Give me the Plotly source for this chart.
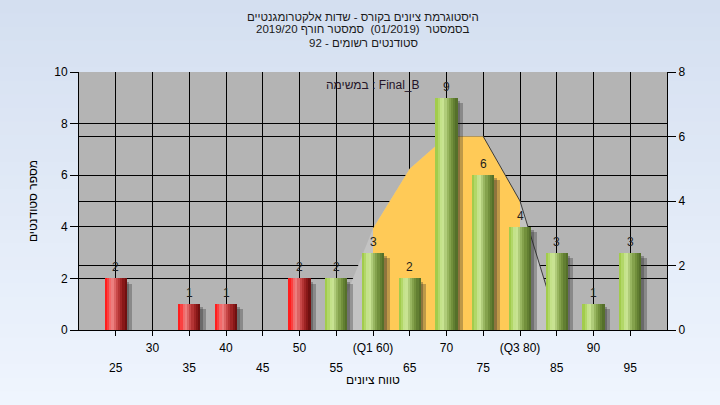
import plotly.graph_objects as go

# ---------------- data ----------------
grades = [25, 30, 35, 40, 45, 50, 55, 60, 65, 70, 75, 80, 85, 90, 95]
counts = [2, 0, 1, 1, 0, 2, 2, 3, 2, 9, 6, 4, 3, 1, 3]
pass_grade = 55

upper_tick_vals = [30, 40, 50, 60, 70, 80, 90]
upper_tick_text = ["30", "40", "50", "(Q1 60)", "70", "(Q3 80)", "90"]
lower_tick_vals = [25, 35, 45, 55, 65, 75, 85, 95]
lower_tick_text = ["25", "35", "45", "55", "65", "75", "85", "95"]

curve_x = [55, 60, 65, 70, 75, 80, 85]
curve_y = [0.3, 3.15, 5.0, 6.0, 6.0, 4.0, 0.3]
q1, q3 = 60, 80

title_lines = [
    "היסטוגרמת ציונים בקורס - שדות אלקטרומגנטיים",
    "\u202bבסמסטר  (01/2019)  סמסטר חורף 2019/20\u202c",
    "סטודנטים רשומים - 92",
]
legend_text = "במשימה : Final_B"
x_title = "טווח ציונים"
y_title = "מספר סטודנטים"

# ---------------- styling ----------------
FONT = "Liberation Sans, Arial, sans-serif"
red_grad = ["#FF1E1E", "#FA4040", "#F26A6A", "#EC7E7E", "#DC6464",
            "#C84848", "#B43434", "#9E2424", "#881818", "#701010"]
green_grad = ["#A2CC4C", "#B2D768", "#C4E28A", "#C8E392", "#B0CC7A",
              "#98B660", "#84A24C", "#72903C", "#627F32", "#55702A"]
bar_w = 3.0
n_strips = len(red_grad)
all_ticks = [25 + 5 * i for i in range(15)]

W, H = 720, 405
ML, MR, MT, MB = 79, 53, 72, 75
PW, PH = W - ML - MR, H - MT - MB

def px_to_paper_x(p):
    return (p - ML) / PW

def px_to_paper_y(p):
    return (H - MB - p) / PH

fig = go.Figure()

# normal-curve area (on main y = right-side axis 0-8)
fig.add_trace(go.Scatter(x=curve_x, y=curve_y, mode="lines", line=dict(width=0),
                         fill="tozeroy", fillcolor="#C3C3C3", hoverinfo="skip",
                         xaxis="x", yaxis="y"))
mid_x = [x for x in curve_x if q1 <= x <= q3]
mid_y = [y for x, y in zip(curve_x, curve_y) if q1 <= x <= q3]
fig.add_trace(go.Scatter(x=mid_x, y=mid_y, mode="lines", line=dict(width=0),
                         fill="tozeroy", fillcolor="#FFCA57", hoverinfo="skip",
                         xaxis="x", yaxis="y"))
tail_x = [x for x in curve_x if x >= 75]
tail_y = [y for x, y in zip(curve_x, curve_y) if x >= 75]
fig.add_trace(go.Scatter(x=tail_x, y=tail_y, mode="lines",
                         line=dict(width=1, color="#3A3A3A"), hoverinfo="skip",
                         xaxis="x", yaxis="y"))

# invisible trace so the lower-row tick axis gets drawn
fig.add_trace(go.Scatter(x=lower_tick_vals, y=[0] * len(lower_tick_vals), mode="markers",
                         marker=dict(opacity=0), hoverinfo="skip", xaxis="x3", yaxis="y"))

# shadows
for off, col, dy in [(0.35, "rgba(40,40,40,0.32)", 0.12), (0.75, "rgba(40,40,40,0.30)", 0.2)]:
    fig.add_trace(go.Bar(x=grades, y=[max(c - dy, 0) if c > 0 else 0 for c in counts],
                         width=bar_w, offset=-bar_w / 2 + off,
                         marker=dict(color=col, line=dict(width=0)),
                         hoverinfo="skip", xaxis="x", yaxis="y2"))

# gradient bars as strips
sw = bar_w / n_strips
for k in range(n_strips):
    cols = [red_grad[k] if g < pass_grade else green_grad[k] for g in grades]
    fig.add_trace(go.Bar(x=grades, y=counts, width=sw * 1.25 if k < n_strips - 1 else sw,
                         offset=-bar_w / 2 + k * sw,
                         marker=dict(color=cols, line=dict(width=0)),
                         hoverinfo="skip", xaxis="x", yaxis="y2"))

axis_common = dict(showline=True, linecolor="black", linewidth=1,
                   gridcolor="black", gridwidth=1, tickcolor="black", automargin=False,
                   tickfont=dict(family=FONT, size=12, color="black"), zeroline=False)

fig.update_layout(
    width=W, height=H,
    margin=dict(l=ML, r=MR, t=MT, b=MB),
    paper_bgcolor="#E3ECF8",
    plot_bgcolor="#B4B4B4",
    showlegend=False,
    barmode="overlay",
    bargap=0,
    xaxis=dict(range=[20, 100], tickmode="array", tickvals=all_ticks,
               ticktext=[upper_tick_text[upper_tick_vals.index(v)] if v in upper_tick_vals else ""
                         for v in all_ticks],
               ticks="outside", ticklen=5, showgrid=True, ticklabelstandoff=2,
               **axis_common),
    xaxis3=dict(range=[20, 100], overlaying="x", anchor="y", side="bottom",
                tickmode="array", tickvals=lower_tick_vals, ticktext=lower_tick_text,
                ticks="", showgrid=False, showline=False, zeroline=False, automargin=False,
                ticklabelstandoff=29,
                tickfont=dict(family=FONT, size=12, color="black"),
                title=dict(text=x_title, font=dict(family=FONT, size=12, color="black"), standoff=1)),
    yaxis=dict(range=[0, 8], side="right", tickmode="linear", tick0=0, dtick=2,
               ticks="outside", ticklen=8, showgrid=True, **axis_common),
    yaxis2=dict(range=[0, 10], side="left", overlaying="y", tickmode="linear", tick0=0, dtick=2,
                ticks="outside", ticklen=8, showgrid=True,
                title=dict(text=y_title, font=dict(family=FONT, size=12, color="black"), standoff=14),
                **axis_common),
)

# background vertical gradient (bands) + plot-area rectangle on top of it
top_rgb = (212, 223, 240)
bot_rgb = (239, 245, 254)
n_bands = 30
for i in range(n_bands):
    t = (i + 0.5) / n_bands
    c = tuple(round(a + (b - a) * t) for a, b in zip(top_rgb, bot_rgb))
    p0 = H * i / n_bands
    p1 = H * (i + 1) / n_bands + 0.6
    fig.add_shape(type="rect", xref="paper", yref="paper", layer="below",
                  x0=px_to_paper_x(0), x1=px_to_paper_x(W),
                  y0=px_to_paper_y(p1), y1=px_to_paper_y(p0),
                  line=dict(width=0), fillcolor="rgb(%d,%d,%d)" % c)
fig.add_shape(type="rect", xref="paper", yref="paper", layer="below",
              x0=0, x1=1, y0=0, y1=1, line=dict(width=0), fillcolor="#B4B4B4")

# value labels on top of bars
for g, c in zip(grades, counts):
    if c > 0:
        fig.add_annotation(x=g, y=c, xref="x", yref="y2", text=str(c), showarrow=False,
                           xanchor="center", yanchor="bottom", yshift=2,
                           font=dict(family=FONT, size=12, color="#1E1E1E"))

# title lines
for line, p in zip(title_lines, [16.5, 29.5, 42.5]):
    fig.add_annotation(text=line, xref="paper", yref="paper", x=px_to_paper_x(363),
                       y=px_to_paper_y(p), xanchor="center", yanchor="middle", showarrow=False,
                       font=dict(family=FONT, size=11.5, color="#1A1A1A"))

fig.add_annotation(text=legend_text, xref="paper", yref="paper", x=0.5, y=px_to_paper_y(85),
                   xanchor="center", yanchor="middle", showarrow=False,
                   font=dict(family=FONT, size=12, color="#241428"))

fig.write_html("out.html", config={"displayModeBar": False},
               post_script="document.body.style.margin='0px';")
